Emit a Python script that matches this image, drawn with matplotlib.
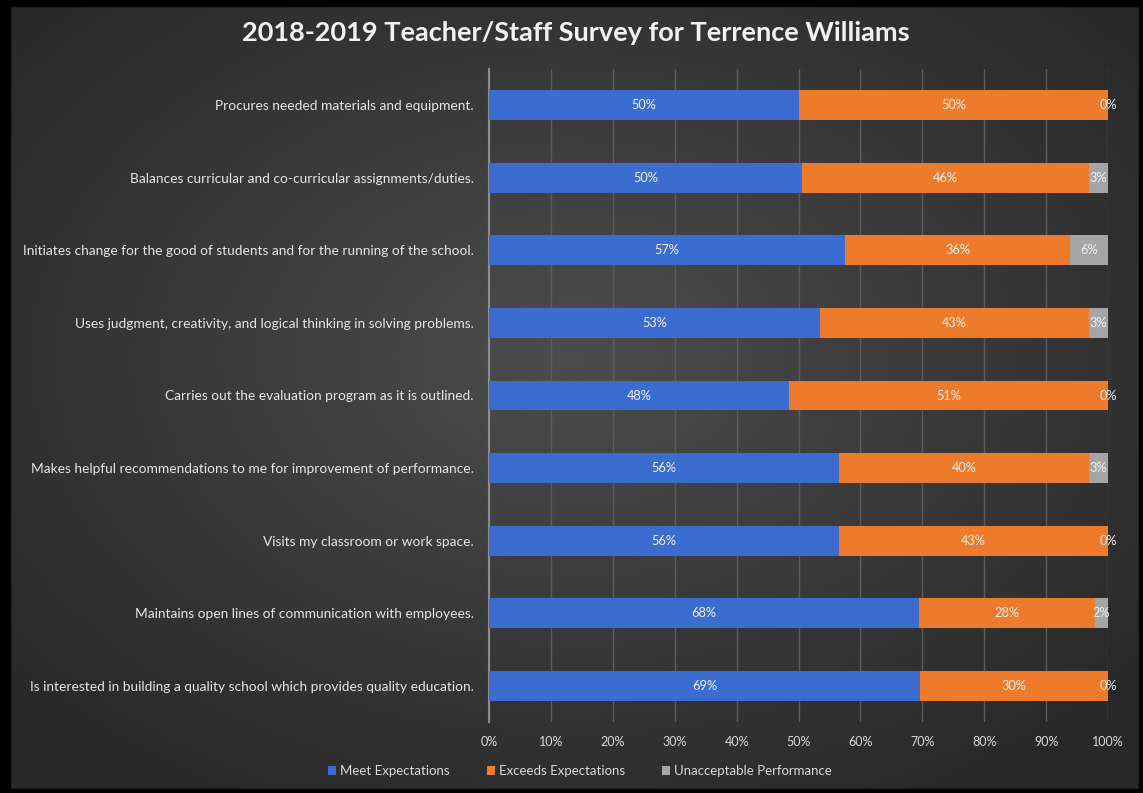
import numpy as np
import matplotlib
matplotlib.use("Agg")
import matplotlib.pyplot as plt
from matplotlib.patches import Rectangle

categories = [
    "Procures needed materials and equipment.",
    "Balances curricular and co-curricular assignments/duties.",
    "Initiates change for the good of students and for the running of the school.",
    "Uses judgment, creativity, and logical thinking in solving problems.",
    "Carries out the evaluation program as it is outlined.",
    "Makes helpful recommendations to me for improvement of performance.",
    "Visits my classroom or work space.",
    "Maintains open lines of communication with employees.",
    "Is interested in building a quality school which provides quality education.",
]
meet = [50, 50, 57, 53, 48, 56, 56, 68, 69]
exceeds = [50, 46, 36, 43, 51, 40, 43, 28, 30]
unacceptable = [0, 3, 6, 3, 0, 3, 0, 2, 0]
series_names = ["Meet Expectations", "Exceeds Expectations", "Unacceptable Performance"]
colors = ["#3b6ccf", "#ee7a2c", "#a5a5a5"]
xticks = [0, 10, 20, 30, 40, 50, 60, 70, 80, 90, 100]

plt.rcParams['font.family'] = ['Lato', 'DejaVu Sans']

fig = plt.figure(figsize=(11.43, 7.93), dpi=100)
fig.patch.set_facecolor("#000000")

# background gradient
bg = fig.add_axes([0, 0, 1, 1], zorder=-10)
h, w = 300, 430
yy, xx = np.mgrid[0:h, 0:w]
cx, cy = w * 0.5, h * 0.45
r = np.sqrt(((xx - cx) / w) ** 2 + ((yy - cy) / h) ** 2)
val = 0.30 - 0.22 * r
val = np.clip(val, 0.16, 0.30)
img = np.dstack([val, val, val])
bg.imshow(img, extent=[0, 1, 0, 1], aspect="auto", origin="upper")
bg.set_xlim(0, 1)
bg.set_ylim(0, 1)
bg.axis("off")
# black frame
for (x0, y0, ww, hh) in [(0, 0, 10 / 1143, 1), (0, 1 - 6 / 793, 1, 6 / 793),
                         (0, 0, 1, 4 / 793), (1 - 4 / 1143, 0, 4 / 1143, 1)]:
    bg.add_patch(Rectangle((x0, y0), ww, hh, color="black", transform=bg.transAxes, zorder=5))

ax = fig.add_axes([489 / 1143, 1 - 722.3 / 793, (1108 - 489) / 1143, (722.3 - 68.7) / 793])
ax.set_facecolor("none")

meet_a = np.array(meet, float)
exc_a = np.array(exceeds, float)
una_a = np.array(unacceptable, float)
tot = meet_a + exc_a + una_a
y = np.arange(len(categories))
left = np.zeros(len(categories))
bar_h = 0.41
for vals, name, col in zip([meet_a, exc_a, una_a], series_names, colors):
    widths = vals / tot * 100
    ax.barh(y, widths, left=left, height=bar_h, color=col, label=name, zorder=3)
    for yi, l, wdt, v in zip(y, left, widths, vals):
        ax.text(l + wdt / 2, yi, f"{int(v)}%", ha="center", va="center",
                color="#f2f2f2", fontsize=9.2, zorder=4)
    left = left + widths

ax.set_xlim(0, 100)
ax.set_ylim(len(categories) - 0.5, -0.5)
ax.set_yticks(y)
ax.set_yticklabels(categories, color="#e6e6e6", fontsize=9.9)
ax.set_xticks(xticks)
ax.set_xticklabels([f"{t}%" for t in xticks], color="#d9d9d9", fontsize=9)
ax.tick_params(axis="x", length=0, pad=10)
ax.tick_params(axis="y", length=0, pad=11)
ax.grid(axis="x", color="#5c5c5c", linewidth=1, zorder=0)
for s in ["top", "right", "bottom"]:
    ax.spines[s].set_visible(False)
ax.spines["left"].set_color("#8c8c8c")
ax.spines["left"].set_linewidth(1.5)

fig.text(576 / 1143, 1 - 33 / 793, "2018-2019 Teacher/Staff Survey for Terrence Williams",
         ha="center", va="center", fontsize=19.5, fontweight="bold", color="#f2f2f2")

leg = fig.legend(loc="center", bbox_to_anchor=(580 / 1143, 1 - 771 / 793), ncol=3,
                 frameon=False, fontsize=9.5, handlelength=0.6, handleheight=0.6,
                 handletextpad=0.3, columnspacing=2.8)
for t in leg.get_texts():
    t.set_color("#d9d9d9")

fig.savefig("out.png", dpi=100, facecolor=fig.get_facecolor())
